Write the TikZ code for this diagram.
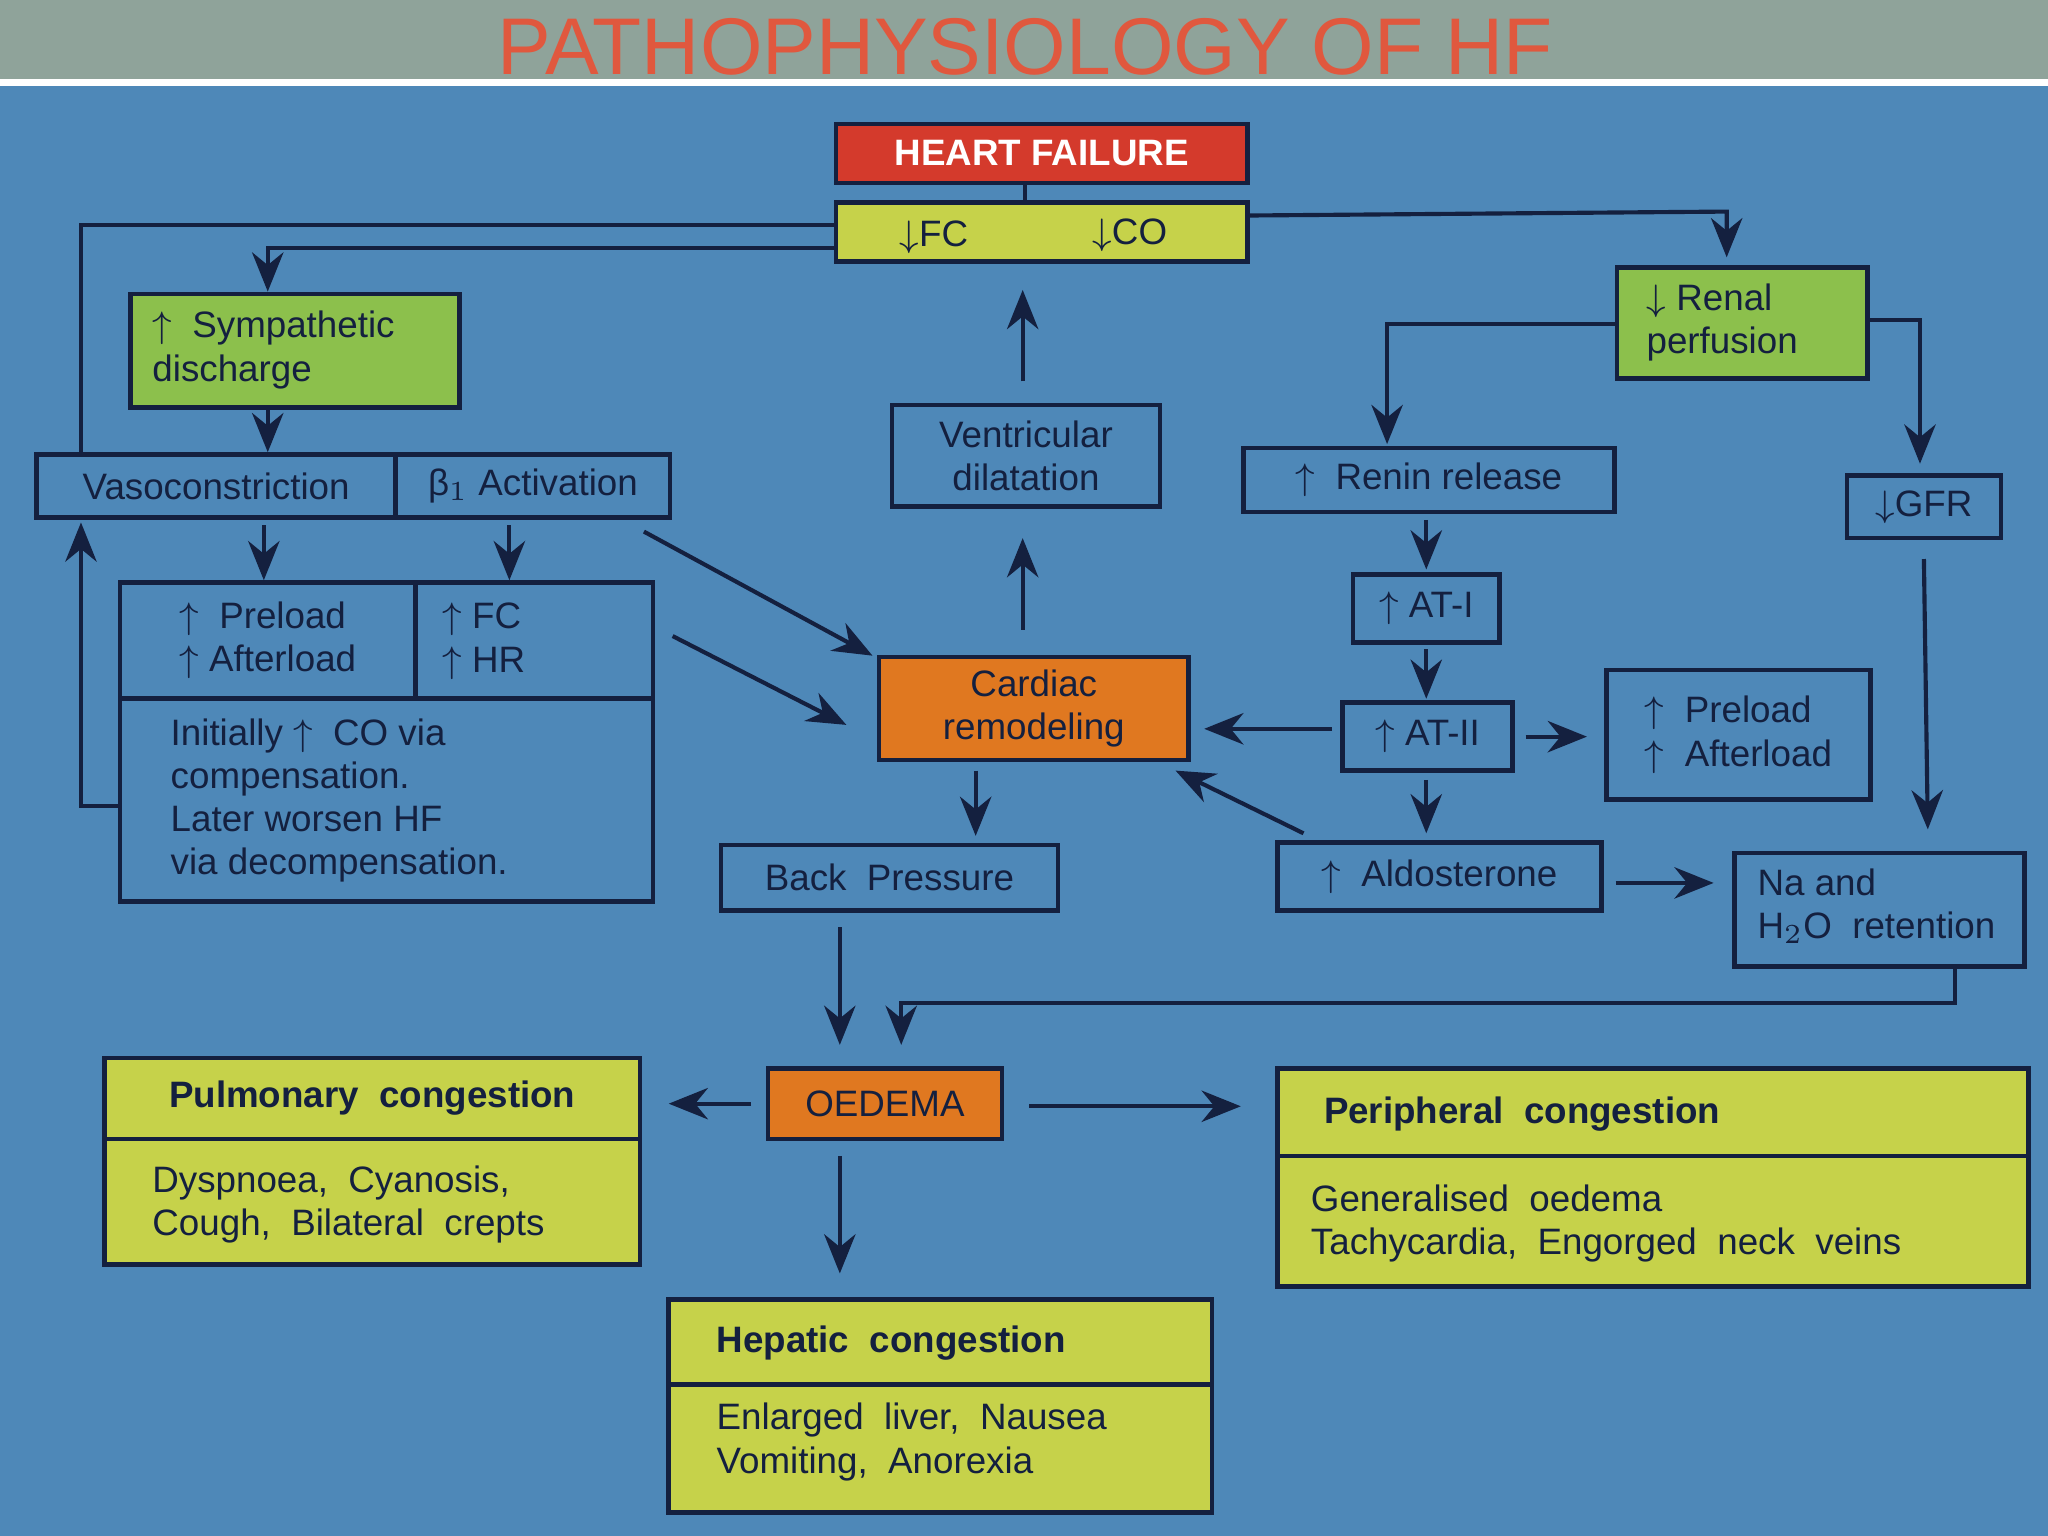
\documentclass[tikz,border=0pt]{standalone}
\usepackage{fontspec}
\setmainfont{Liberation Sans}
\usetikzlibrary{arrows.meta,fit}
\definecolor{bg}{HTML}{4E88B8}
\definecolor{bar}{HTML}{8FA39A}
\definecolor{ttl}{HTML}{E0583E}
\definecolor{ink}{HTML}{14203F}
\definecolor{grn}{HTML}{8CC04C}
\definecolor{ylw}{HTML}{C6D24A}
\definecolor{org}{HTML}{E07820}
\definecolor{hfred}{HTML}{D43A2C}
\tikzset{
 box/.style={draw=ink,line width=1pt,inner sep=0pt},
 txt/.style={text=ink,font=\fontsize{8}{9.4}\selectfont,align=left,inner sep=0pt},
 btxt/.style={txt,font=\bfseries\fontsize{8}{9.4}\selectfont},
 arr/.style={draw=ink,line width=0.9pt,-{Stealth[length=3mm,width=2.4mm]}},
 ln/.style={draw=ink,line width=0.9pt}
}
\newcommand{\ua}{$\uparrow$}
\newcommand{\da}{$\downarrow$}
\begin{document}
\begin{tikzpicture}[x=0.01cm,y=-0.01cm]
\fill[bg] (0,0) rectangle (1568,1176);
\useasboundingbox (0,0) rectangle (1568,1176);
\fill[bar] (0,0) rectangle (1568,62);
\draw[white,line width=1.5pt] (0,63.5) -- (1568,63.5);
\node[text=ttl,font=\fontsize{17.5}{20}\selectfont] (title) at (785,36) {PATHOPHYSIOLOGY OF HF};

% boxes
\node[box,fill=hfred,fit={(640,95)(955,140)}] (hf) {};
\node[text=white,font=\bfseries\fontsize{8}{10}\selectfont] (hft) at (hf) {HEART FAILURE};
\node[box,fill=ylw,fit={(640,155)(955,200)}] (fcco) {};
\node[txt] (fct) at (715,182) {\da FC};
\node[txt] (cot) at (865,180) {\da CO};

\node[box,fill=grn,fit={(100,225)(352,312)}] (sym) {};
\node[txt,anchor=west] (symt) at (116,268) {\ua\ \ Sympathetic\\discharge};

\node[box,fit={(28,348)(303,396)}] (vaso) {};
\node[txt] (vasot) at (vaso) {Vasoconstriction};
\node[box,fit={(303,348)(513,396)}] (beta) {};
\node[txt] (betat) at (beta) {β$_1$ Activation};

\node[box,fit={(92,446)(318,535)}] (pa) {};
\node[txt] (pat) at (pa) {\ua\ \ Preload\\\ua\ Afterload};
\node[box,fit={(318,446)(500,535)}] (fchr) {};
\node[txt,anchor=west] (fchrt) at (338,491) {\ua\ FC\\\ua\ HR};
\node[box,fit={(92,535)(500,690)}] (init) {};
\node[txt,anchor=west] (initt) at (130,613) {Initially \ua\ \ CO via\\compensation.\\Later worsen HF\\via decompensation.};

\node[box,fit={(683,310)(888,388)}] (vent) {};
\node[txt,align=center] (ventt) at (vent) {Ventricular\\dilatation};
\node[box,fill=org,fit={(673,503)(910,582)}] (card) {};
\node[txt,align=center] (cardt) at (card) {Cardiac\\remodeling};
\node[box,fit={(552,647)(810,697)}] (back) {};
\node[txt] (backt) at (back) {Back \ Pressure};

\node[box,fill=grn,fit={(1238,205)(1430,290)}] (ren) {};
\node[txt,anchor=west] (rent) at (1260,247) {\da\ Renal\\perfusion};
\node[box,fit={(952,343)(1236,392)}] (renin) {};
\node[txt] (renint) at (renin) {\ua\ \ Renin release};
\node[box,fit={(1414,364)(1532,412)}] (gfr) {};
\node[txt] (gfrt) at (gfr) {\da GFR};
\node[box,fit={(1036,440)(1148,492)}] (at1) {};
\node[txt] (at1t) at (at1) {\ua\ AT-I};
\node[box,fit={(1028,538)(1158,590)}] (at2) {};
\node[txt] (at2t) at (at2) {\ua\ AT-II};
\node[box,fit={(1230,513)(1432,612)}] (pa2) {};
\node[txt] (pa2t) at (pa2) {\ua\ \ Preload\\\ua\ \ Afterload};
\node[box,fit={(978,645)(1226,697)}] (ald) {};
\node[txt] (aldt) at (ald) {\ua\ \ Aldosterone};
\node[box,fit={(1328,653)(1550,740)}] (na) {};
\node[txt,anchor=west] (nat) at (1345,694) {Na and\\H$_2$O \ retention};

\node[box,fill=org,fit={(588,818)(767,872)}] (oed) {};
\node[txt] (oedt) at (oed) {OEDEMA};

\node[box,fill=ylw,fit={(80,810)(490,968)}] (pul) {};
\draw[ln] (80,872) -- (490,872);
\node[btxt] (pult) at (285,841) {Pulmonary \ congestion};
\node[txt,anchor=west] (pulb) at (116,922) {Dyspnoea, \ Cyanosis,\\Cough, \ Bilateral \ crepts};

\node[box,fill=ylw,fit={(978,818)(1553,985)}] (per) {};
\draw[ln] (978,885) -- (1553,885);
\node[btxt,anchor=west] (pert) at (1013,853) {Peripheral \ congestion};
\node[txt,anchor=west] (perb) at (1003,937) {Generalised \ oedema\\Tachycardia, \ Engorged \ neck \ veins};

\node[box,fill=ylw,fit={(512,995)(928,1158)}] (hep) {};
\draw[ln] (512,1060) -- (928,1060);
\node[btxt,anchor=west] (hept) at (548,1028) {Hepatic \ congestion};
\node[txt,anchor=west] (hepb) at (548,1104) {Enlarged \ liver, \ Nausea\\Vomiting, \ Anorexia};

% connectors
\draw[ln] (hf.south -| 785,0) -- (fcco.north -| 785,0);
\draw[ln] (fcco.west |- 0,172) -- (62,172) -- (vaso.north -| 62,0);
\draw[arr] (fcco.west |- 0,190) -- (205,190) -- (sym.north -| 205,0);
\draw[arr] (fcco.east |- 0,165) -- (1322,162) -- (1322,197);
\draw[arr] (sym.south -| 205,0) -- (vaso.north -| 205,0);
\draw[arr] (202,402) -- (pa.north -| 202,0);
\draw[arr] (390,402) -- (fchr.north -| 390,0);
\draw[arr] (init.west |- 0,617) -- (62,617) -- (62,400);
\draw[arr] (493,407) -- (668,502);
\draw[arr] (515,487) -- (648,555);
\draw[arr] (783,482) -- (783,412);
\draw[arr] (783,292) -- (783,222);
\draw[arr] (747,590) -- (747,640);
\draw[arr] (ren.west |- 0,248) -- (1062,248) -- (1062,340);
\draw[arr] (ren.east |- 0,245) -- (1470,245) -- (1470,355);
\draw[arr] (1092,398) -- (1092,436);
\draw[arr] (1092,497) -- (1092,535);
\draw[arr] (1092,597) -- (1092,638);
\draw[arr] (1020,558) -- (922,558);
\draw[arr] (1168,564) -- (1215,564);
\draw[arr] (998,638) -- (900,590);
\draw[arr] (1237,676) -- (1312,676);
\draw[arr] (1473,428) -- (1476,635);
\draw[arr] (na.south -| 1497,0) -- (1497,768) -- (690,768) -- (690,800);
\draw[arr] (643,710) -- (643,800);
\draw[arr] (575,845) -- (512,845);
\draw[arr] (788,847) -- (950,847);
\draw[arr] (643,885) -- (643,975);
\end{tikzpicture}
\end{document}
